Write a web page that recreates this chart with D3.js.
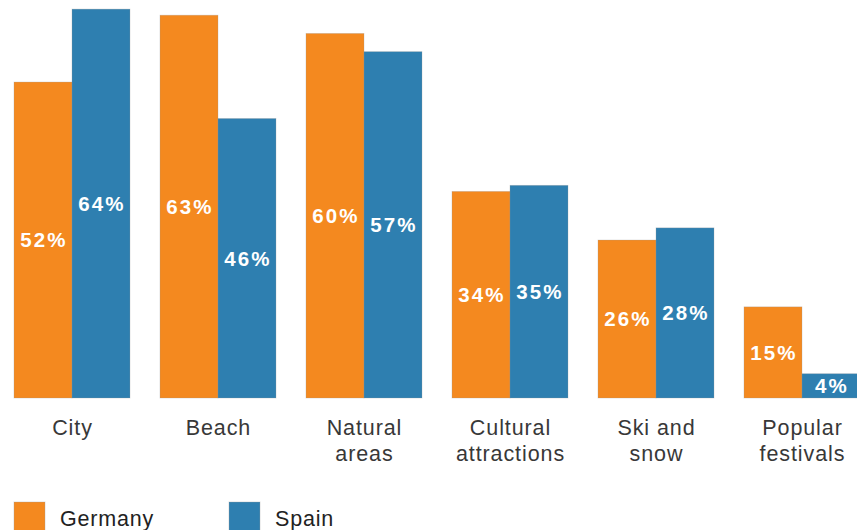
<!DOCTYPE html>
<html>
<head>
<meta charset="utf-8">
<script src="https://cdn.jsdelivr.net/npm/d3@7"></script>
<style>
  body { margin: 0; background: #fff; }
  svg text { font-family: "Liberation Sans", Arial, Helvetica, sans-serif; }
</style>
</head>
<body>
<div id="chart"></div>
<script>
const categories = [["City"], ["Beach"], ["Natural", "areas"], ["Cultural", "attractions"], ["Ski and", "snow"], ["Popular", "festivals"]];
const seriesNames = ["Germany", "Spain"];
const germany = [52, 63, 60, 34, 26, 15];
const spain = [64, 46, 57, 35, 28, 4];

const width = 857, height = 530;
const colors = ["#f4891f", "#2e7fb0"];
const baseline = 398;

const svg = d3.select("#chart")
    .append("svg")
    .attr("width", width)
    .attr("height", height);

const keys = categories.map(d => d.join(" "));

const xScale = d3.scaleBand()
    .domain(keys)
    .range([14, 860])
    .paddingInner(30 / 146)
    .paddingOuter(0);

const xSub = d3.scaleBand()
    .domain(seriesNames)
    .range([0, xScale.bandwidth()]);

const yScale = d3.scaleLinear()
    .domain([0, 65.5])
    .range([baseline, 0]);

const rows = keys.map((k, i) => ({key: k, values: [germany[i], spain[i]]}));

const groups = svg.append("g")
    .selectAll("g")
    .data(rows)
    .enter()
    .append("g")
    .attr("transform", d => `translate(${xScale(d.key)},0)`);

groups.selectAll("rect")
    .data(d => d.values.map((v, j) => ({name: seriesNames[j], v: v, j: j})))
    .enter()
    .append("rect")
    .attr("x", d => xSub(d.name))
    .attr("y", d => yScale(d.v))
    .attr("width", xSub.bandwidth())
    .attr("height", d => baseline - yScale(d.v))
    .attr("fill", d => colors[d.j])
    .attr("stroke", "#9a9a9a")
    .attr("stroke-opacity", 0.35)
    .attr("stroke-width", 0.8);

groups.selectAll(".val")
    .data(d => d.values.map((v, j) => ({name: seriesNames[j], v: v})))
    .enter()
    .append("text")
    .attr("class", "val")
    .attr("x", d => xSub(d.name) + xSub.bandwidth() / 2 + 1)
    .attr("y", d => (yScale(d.v) + baseline) / 2)
    .attr("dy", "0.36em")
    .attr("text-anchor", "middle")
    .attr("fill", "#fff")
    .attr("font-weight", "bold")
    .attr("font-size", 20.5)
    .attr("letter-spacing", 2.2)
    .text(d => d.v + "%");

// category labels
const labels = svg.append("g")
    .selectAll("text")
    .data(categories)
    .enter()
    .append("text")
    .attr("x", (d, i) => xScale(keys[i]) + xScale.bandwidth() / 2 + 0.5)
    .attr("y", 435)
    .attr("text-anchor", "middle")
    .attr("fill", "#383838")
    .attr("font-size", 21.5)
    .attr("letter-spacing", 0.9);

labels.selectAll("tspan")
    .data(d => d)
    .enter()
    .append("tspan")
    .attr("x", function () { return this.parentNode.getAttribute("x"); })
    .attr("dy", (d, i) => i === 0 ? 0 : 26)
    .text(d => d);

// legend
const legend = svg.append("g")
    .selectAll("g")
    .data(seriesNames)
    .enter()
    .append("g")
    .attr("transform", (d, i) => `translate(${14 + i * 215},502)`);

legend.append("rect")
    .attr("width", 31)
    .attr("height", 32)
    .attr("fill", (d, i) => colors[i])
    .attr("stroke", "#9a9a9a")
    .attr("stroke-opacity", 0.35);

legend.append("text")
    .attr("x", 46)
    .attr("y", 24)
    .attr("fill", "#222")
    .attr("font-size", 21.5)
    .attr("letter-spacing", 0.8)
    .text(d => d);
</script>
</body>
</html>
